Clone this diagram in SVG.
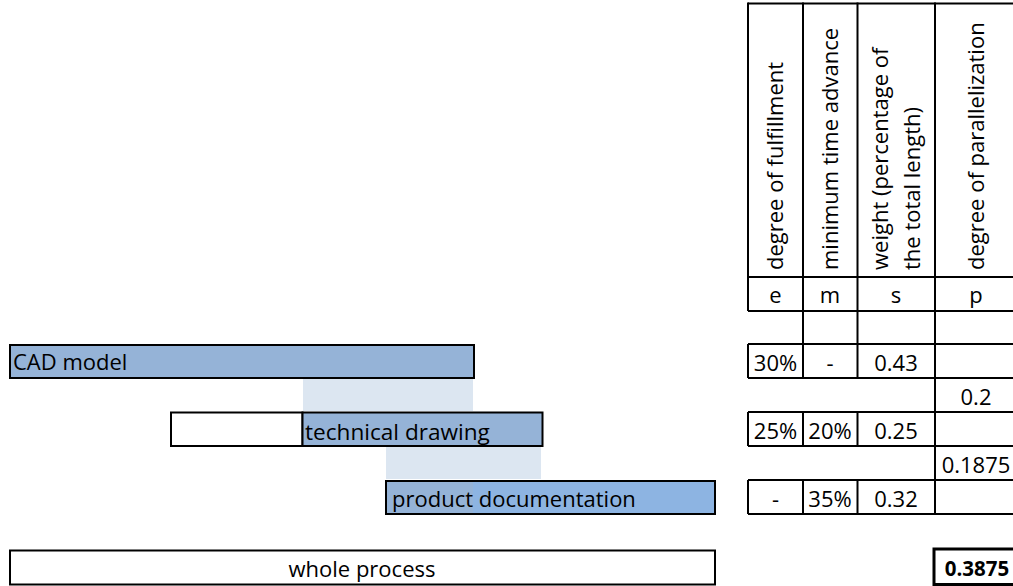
<svg xmlns="http://www.w3.org/2000/svg" width="1013" height="586" viewBox="0 0 1013 586">
<style>
text{font-family:"Open Sans","Liberation Sans",sans-serif;font-size:22px;fill:#000}
.c{text-anchor:middle}
.b{font-weight:bold;font-size:20.5px}
.ln{stroke:#000;stroke-width:2;fill:none}
.bar{fill:#95b3d7;stroke:#000;stroke-width:2}
.shade{fill:#dce6f1}
</style>
<rect width="1013" height="586" fill="#fff"/>
<g id="shades">
<rect class="shade" x="303" y="379" width="170" height="32"/>
<rect class="shade" x="386" y="447" width="155" height="32"/>
</g>
<g id="cad-model">
<rect class="bar" x="10" y="345" width="464" height="33"/>
<text x="13" y="370">CAD model</text>
</g>
<g id="technical-drawing">
<rect x="171" y="412.5" width="131.5" height="33.5" fill="#fff" stroke="#000" stroke-width="2"/>
<rect class="bar" x="302.5" y="412.5" width="240" height="33.5"/>
<text x="305" y="440" style="font-size:22.6px">technical drawing</text>
</g>
<g id="product-documentation">
<rect x="386" y="481" width="329" height="33" fill="#8db4e2"/>
<rect x="386" y="481" width="87" height="33" fill="#95b3d7"/>
<rect x="386" y="481" width="329" height="33" fill="none" stroke="#000" stroke-width="2"/>
<text x="392" y="507">product documentation</text>
</g>
<g id="whole-process">
<rect x="10" y="550.5" width="705" height="34" fill="#fff" stroke="#000" stroke-width="2"/>
<text class="c" x="362" y="577">whole process</text>
</g>
<g id="table">
<path class="ln" d="M748 3.5H1015M748 277H1015M748 311H1015M748 344H1015M748 378H1015M748 412H1015M748 446H1015M748 480H1015M748 514H1015"/>
<path class="ln" d="M748 2.5V311M803 2.5V311M857.5 2.5V311M935 2.5V311"/>
<path class="ln" d="M803 311V344M857.5 311V344M935 311V344"/>
<path class="ln" d="M748 344V378M803 344V378M857.5 344V378M935 344V378"/>
<path class="ln" d="M935 378V412"/>
<path class="ln" d="M748 412V446M803 412V446M857.5 412V446M935 412V446"/>
<path class="ln" d="M935 446V480"/>
<path class="ln" d="M748 480V514M803 480V514M857.5 480V514M935 480V514"/>
<text transform="translate(783,270) rotate(-90)">degree of fulfillment</text>
<text transform="translate(838,270) rotate(-90)">minimum time advance</text>
<text transform="translate(888,270) rotate(-90)">weight (percentage of</text>
<text transform="translate(920,270) rotate(-90)">the total length)</text>
<text transform="translate(984,270) rotate(-90)">degree of parallelization</text>
<text class="c" x="775.5" y="303">e</text>
<text class="c" x="830" y="303">m</text>
<text class="c" x="896" y="303">s</text>
<text class="c" x="976" y="303">p</text>
<text class="c" x="775.5" y="371">30%</text>
<text class="c" x="830" y="371">-</text>
<text class="c" x="896" y="371">0.43</text>
<text class="c" x="976" y="405">0.2</text>
<text class="c" x="775.5" y="439">25%</text>
<text class="c" x="830" y="439">20%</text>
<text class="c" x="896" y="439">0.25</text>
<text class="c" x="976" y="473">0.1875</text>
<text class="c" x="775.5" y="507">-</text>
<text class="c" x="830" y="507">35%</text>
<text class="c" x="896" y="507">0.32</text>
</g>
<g id="result">
<rect x="934" y="549" width="82" height="35.5" fill="#fff" stroke="#000" stroke-width="3"/>
<text class="c b" x="977" y="576">0.3875</text>
</g>
</svg>
